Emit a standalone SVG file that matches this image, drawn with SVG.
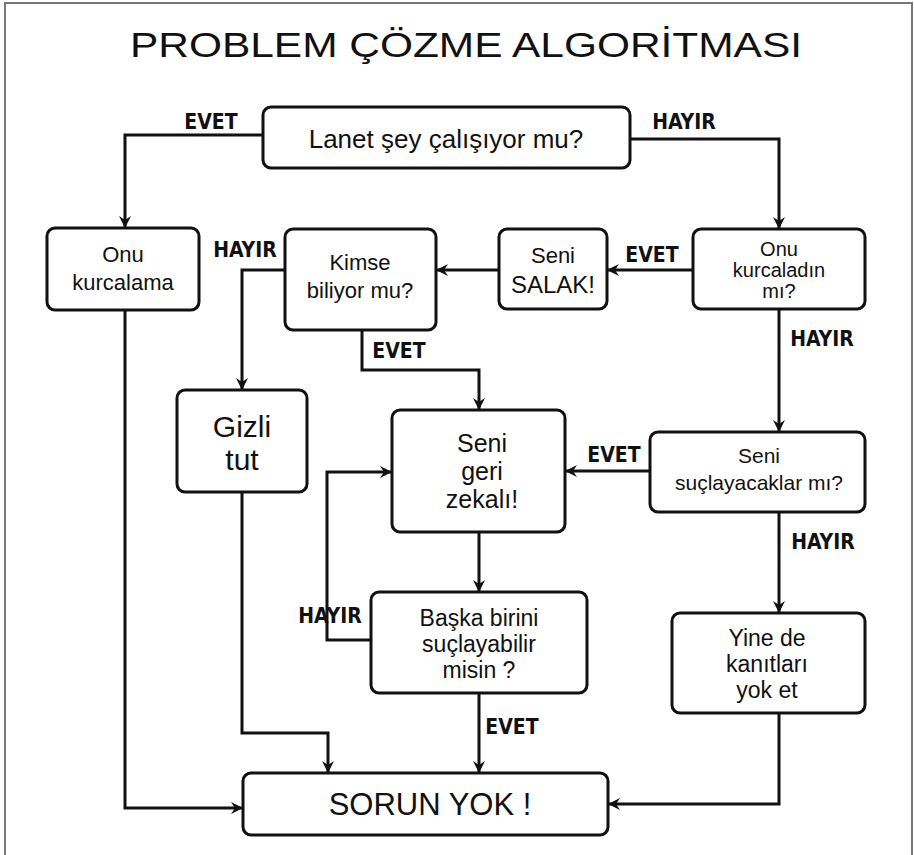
<svg xmlns="http://www.w3.org/2000/svg" width="914" height="855" viewBox="0 0 914 855">
<style>
.box{fill:#fff;stroke:#111;stroke-width:3}
.t{font-family:"Liberation Sans","DejaVu Sans",sans-serif;fill:#111;text-anchor:middle}
.lbl{font-family:"DejaVu Sans Condensed","DejaVu Sans",sans-serif;font-stretch:condensed;font-weight:bold;font-size:21px;fill:#111;text-anchor:middle}
.c{fill:none;stroke:#111;stroke-width:3;marker-end:url(#ar)}
</style>
<defs>
<marker id="ar" markerUnits="userSpaceOnUse" markerWidth="14" markerHeight="14" refX="12" refY="7" orient="auto">
<path d="M1,1 L13,7 L1,13 L5,7 z" fill="#111"/>
</marker>
</defs>
<rect x="0" y="0" width="914" height="855" fill="#fff"/>
<path d="M5,855 V3 H912 V855" fill="none" stroke="#777" stroke-width="2"/>
<text x="466" y="57" font-family="Liberation Sans,DejaVu Sans,sans-serif" font-size="35" fill="#111" text-anchor="middle" textLength="672" lengthAdjust="spacingAndGlyphs">PROBLEM ÇÖZME ALGORİTMASI</text>

<g id="connectors">
<path class="c" d="M263,135 H125 V227"/>
<path class="c" d="M630,139 H779 V228"/>
<path class="c" d="M693,270 H608"/>
<path class="c" d="M499,270 H437"/>
<path class="c" d="M285,270 H242 V389"/>
<path class="c" d="M362,330 V370 H479 V409"/>
<path class="c" d="M779,309 V431"/>
<path class="c" d="M650,471 H566"/>
<path class="c" d="M479,532 V591"/>
<path class="c" d="M371,640 H327 V472 H391"/>
<path class="c" d="M479,693 V772"/>
<path class="c" d="M242,492 V733 H328 V772"/>
<path class="c" d="M125,310 V808 H242"/>
<path class="c" d="M779,512 V612"/>
<path class="c" d="M779,713 V804 H609"/>
<text class="lbl" x="211" y="129">EVET</text>
<text class="lbl" x="684" y="129">HAYIR</text>
<text class="lbl" x="245" y="257">HAYIR</text>
<text class="lbl" x="652" y="262">EVET</text>
<text class="lbl" x="822" y="346">HAYIR</text>
<text class="lbl" x="399" y="358">EVET</text>
<text class="lbl" x="614" y="462">EVET</text>
<text class="lbl" x="823" y="549">HAYIR</text>
<text class="lbl" x="330" y="623">HAYIR</text>
<text class="lbl" x="512" y="734">EVET</text>
</g>

<g id="lanet">
<rect class="box" x="263" y="107" width="367" height="61" rx="8"/>
<text class="t" x="446" y="148" font-size="26">Lanet şey çalışıyor mu?</text>
</g>
<g id="onu-kurcalama">
<rect class="box" x="47" y="228" width="152" height="82" rx="8"/>
<text class="t" x="123" y="262" font-size="22">Onu</text>
<text class="t" x="123" y="290" font-size="22">kurcalama</text>
</g>
<g id="kimse">
<rect class="box" x="285" y="229" width="151" height="101" rx="8"/>
<text class="t" x="360" y="270" font-size="22">Kimse</text>
<text class="t" x="360" y="298" font-size="22">biliyor mu?</text>
</g>
<g id="salak">
<rect class="box" x="499" y="229" width="108" height="80" rx="8"/>
<text class="t" x="553" y="263" font-size="22">Seni</text>
<text class="t" x="553" y="293" font-size="24">SALAK!</text>
</g>
<g id="kurcaladin">
<rect class="box" x="693" y="229" width="172" height="80" rx="8"/>
<text class="t" x="779" y="256" font-size="20">Onu</text>
<text class="t" x="779" y="277" font-size="20">kurcaladın</text>
<text class="t" x="779" y="298" font-size="20">mı?</text>
</g>
<g id="gizli">
<rect class="box" x="177" y="390" width="130" height="102" rx="8"/>
<text class="t" x="242" y="437" font-size="30">Gizli</text>
<text class="t" x="242" y="470" font-size="30">tut</text>
</g>
<g id="geri-zekali">
<rect class="box" x="392" y="410" width="173" height="122" rx="8"/>
<text class="t" x="482" y="452" font-size="25">Seni</text>
<text class="t" x="482" y="480" font-size="25">geri</text>
<text class="t" x="482" y="508" font-size="25">zekalı!</text>
</g>
<g id="suclayacaklar">
<rect class="box" x="650" y="432" width="215" height="80" rx="8"/>
<text class="t" x="759" y="463" font-size="21">Seni</text>
<text class="t" x="759" y="490" font-size="21">suçlayacaklar mı?</text>
</g>
<g id="baska">
<rect class="box" x="371" y="592" width="216" height="101" rx="8"/>
<text class="t" x="479" y="626" font-size="23">Başka birini</text>
<text class="t" x="479" y="652" font-size="23">suçlayabilir</text>
<text class="t" x="479" y="678" font-size="23">misin ?</text>
</g>
<g id="yine">
<rect class="box" x="672" y="613" width="193" height="100" rx="8"/>
<text class="t" x="767" y="646" font-size="23">Yine de</text>
<text class="t" x="767" y="672" font-size="23">kanıtları</text>
<text class="t" x="767" y="698" font-size="23">yok et</text>
</g>
<g id="sorun">
<rect class="box" x="243" y="773" width="365" height="62" rx="8"/>
<text class="t" x="430" y="815" font-size="31">SORUN YOK !</text>
</g>
</svg>
